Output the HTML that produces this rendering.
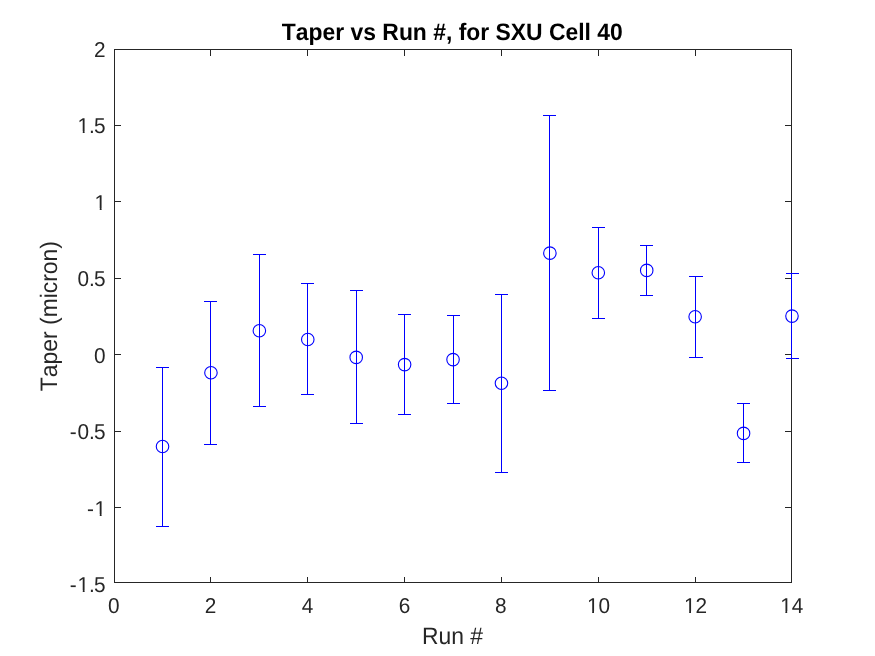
<!DOCTYPE html>
<html><head><meta charset="utf-8"><title>Taper vs Run #</title>
<style>
html,body{margin:0;padding:0;background:#fff;}
body{width:875px;height:656px;overflow:hidden;}
svg{display:block;}
text{font-family:"Liberation Sans",Arial,Helvetica,sans-serif;font-kerning:none;text-rendering:geometricPrecision;}
.tk{font-size:20.8px;fill:#262626;}
.lb{font-size:22.9px;fill:#262626;}
.tt{font-size:22.9px;font-weight:bold;fill:#000;}
</style></head><body>
<svg width="875" height="656" viewBox="0 0 875 656">
<rect width="875" height="656" fill="#fff"/>

<g fill="#262626" shape-rendering="crispEdges">
<rect x="114" y="49" width="678" height="1"/>
<rect x="114" y="582" width="678" height="1"/>
<rect x="114" y="49" width="1" height="534"/>
<rect x="791" y="49" width="1" height="534"/>
<rect x="115" y="125" width="6" height="1"/>
<rect x="785" y="125" width="6" height="1"/>
<rect x="115" y="201" width="6" height="1"/>
<rect x="785" y="201" width="6" height="1"/>
<rect x="115" y="278" width="6" height="1"/>
<rect x="785" y="278" width="6" height="1"/>
<rect x="115" y="354" width="6" height="1"/>
<rect x="785" y="354" width="6" height="1"/>
<rect x="115" y="431" width="6" height="1"/>
<rect x="785" y="431" width="6" height="1"/>
<rect x="115" y="507" width="6" height="1"/>
<rect x="785" y="507" width="6" height="1"/>
<rect x="210" y="577" width="1" height="5"/>
<rect x="210" y="50" width="1" height="6"/>
<rect x="307" y="577" width="1" height="5"/>
<rect x="307" y="50" width="1" height="6"/>
<rect x="404" y="577" width="1" height="5"/>
<rect x="404" y="50" width="1" height="6"/>
<rect x="501" y="577" width="1" height="5"/>
<rect x="501" y="50" width="1" height="6"/>
<rect x="598" y="577" width="1" height="5"/>
<rect x="598" y="50" width="1" height="6"/>
<rect x="695" y="577" width="1" height="5"/>
<rect x="695" y="50" width="1" height="6"/>
</g>
<g fill="#0000ff" shape-rendering="crispEdges">
<rect x="162" y="367" width="1" height="160"/>
<rect x="156" y="367" width="13" height="1"/>
<rect x="156" y="526" width="13" height="1"/>
<rect x="210" y="301" width="1" height="144"/>
<rect x="204" y="301" width="13" height="1"/>
<rect x="204" y="444" width="13" height="1"/>
<rect x="259" y="254" width="1" height="153"/>
<rect x="253" y="254" width="13" height="1"/>
<rect x="253" y="406" width="13" height="1"/>
<rect x="307" y="283" width="1" height="112"/>
<rect x="301" y="283" width="13" height="1"/>
<rect x="301" y="394" width="13" height="1"/>
<rect x="356" y="290" width="1" height="134"/>
<rect x="350" y="290" width="13" height="1"/>
<rect x="350" y="423" width="13" height="1"/>
<rect x="404" y="314" width="1" height="101"/>
<rect x="398" y="314" width="13" height="1"/>
<rect x="398" y="414" width="13" height="1"/>
<rect x="453" y="315" width="1" height="89"/>
<rect x="447" y="315" width="13" height="1"/>
<rect x="447" y="403" width="13" height="1"/>
<rect x="501" y="294" width="1" height="179"/>
<rect x="495" y="294" width="13" height="1"/>
<rect x="495" y="472" width="13" height="1"/>
<rect x="549" y="115" width="1" height="276"/>
<rect x="543" y="115" width="13" height="1"/>
<rect x="543" y="390" width="13" height="1"/>
<rect x="598" y="227" width="1" height="92"/>
<rect x="592" y="227" width="13" height="1"/>
<rect x="592" y="318" width="13" height="1"/>
<rect x="646" y="245" width="1" height="51"/>
<rect x="640" y="245" width="13" height="1"/>
<rect x="640" y="295" width="13" height="1"/>
<rect x="695" y="276" width="1" height="82"/>
<rect x="689" y="276" width="14" height="1"/>
<rect x="689" y="357" width="14" height="1"/>
<rect x="743" y="403" width="1" height="60"/>
<rect x="737" y="403" width="13" height="1"/>
<rect x="737" y="462" width="13" height="1"/>
<rect x="791" y="273" width="1" height="86"/>
<rect x="786" y="273" width="13" height="1"/>
<rect x="786" y="358" width="13" height="1"/>
</g>
<g stroke="#0000ff" stroke-width="1.1" fill="none">
<circle cx="162.52" cy="446.5" r="6.25"/>
<circle cx="210.94" cy="372.7" r="6.25"/>
<circle cx="259.36" cy="330.7" r="6.25"/>
<circle cx="307.78" cy="339.5" r="6.25"/>
<circle cx="356.20" cy="357.4" r="6.25"/>
<circle cx="404.62" cy="364.6" r="6.25"/>
<circle cx="453.04" cy="359.6" r="6.25"/>
<circle cx="501.46" cy="383.3" r="6.25"/>
<circle cx="549.88" cy="253.1" r="6.25"/>
<circle cx="598.30" cy="272.8" r="6.25"/>
<circle cx="646.72" cy="270.4" r="6.25"/>
<circle cx="695.14" cy="316.8" r="6.25"/>
<circle cx="743.56" cy="433.4" r="6.25"/>
<circle cx="791.98" cy="316.1" r="6.25"/>
</g>
<text class="tk" transform="translate(0,57) scale(1,1.040)"><tspan x="93.93">2</tspan></text>
<text class="tk" transform="translate(0,133) scale(1,1.040)"><tspan x="77.54">1.</tspan><tspan x="93.93">5</tspan></text>
<text class="tk" transform="translate(0,210) scale(1,1.040)"><tspan x="94.53">1</tspan></text>
<text class="tk" transform="translate(0,286) scale(1,1.040)"><tspan x="77.49">0.</tspan><tspan x="93.93">5</tspan></text>
<text class="tk" transform="translate(0,363) scale(1,1.040)"><tspan x="93.93">0</tspan></text>
<text class="tk" transform="translate(0,439) scale(1,1.040)"><tspan x="69.66">-</tspan><tspan x="77.39">0.</tspan><tspan x="93.93">5</tspan></text>
<text class="tk" transform="translate(0,516) scale(1,1.040)"><tspan x="87.01">-</tspan><tspan x="94.53">1</tspan></text>
<text class="tk" transform="translate(0,592) scale(1,1.040)"><tspan x="69.66">-</tspan><tspan x="77.54">1.</tspan><tspan x="93.93">5</tspan></text>
<text class="tk" transform="translate(113.8,613.0) scale(1,1.040)" text-anchor="middle">0</text>
<text class="tk" transform="translate(210.5,613.0) scale(1,1.040)" text-anchor="middle">2</text>
<text class="tk" transform="translate(307.5,613.0) scale(1,1.040)" text-anchor="middle">4</text>
<text class="tk" transform="translate(404.5,613.0) scale(1,1.040)" text-anchor="middle">6</text>
<text class="tk" transform="translate(500.7,613.0) scale(1,1.040)" text-anchor="middle">8</text>
<text class="tk" transform="translate(598.5,613.0) scale(1,1.040)" text-anchor="middle">10</text>
<text class="tk" transform="translate(695.5,613.0) scale(1,1.040)" text-anchor="middle">12</text>
<text class="tk" transform="translate(791.7,613.0) scale(1,1.040)" text-anchor="middle">14</text>
<rect x="78.44" y="131.00" width="4.33" height="2.3" fill="#fff"/><rect x="84.61" y="131.00" width="4.20" height="2.3" fill="#fff"/>
<rect x="95.43" y="208.00" width="4.33" height="2.3" fill="#fff"/><rect x="101.60" y="208.00" width="4.20" height="2.3" fill="#fff"/>
<rect x="95.43" y="514.00" width="4.33" height="2.3" fill="#fff"/><rect x="101.60" y="514.00" width="4.20" height="2.3" fill="#fff"/>
<rect x="78.44" y="590.00" width="4.33" height="2.3" fill="#fff"/><rect x="84.61" y="590.00" width="4.20" height="2.3" fill="#fff"/>
<rect x="587.83" y="611.00" width="4.33" height="2.3" fill="#fff"/><rect x="594.00" y="611.00" width="4.20" height="2.3" fill="#fff"/>
<rect x="684.83" y="611.00" width="4.33" height="2.3" fill="#fff"/><rect x="691.00" y="611.00" width="4.20" height="2.3" fill="#fff"/>
<rect x="781.03" y="611.00" width="4.33" height="2.3" fill="#fff"/><rect x="787.20" y="611.00" width="4.20" height="2.3" fill="#fff"/>
<text class="lb" transform="translate(452.5,644.0) scale(1,1.040)" text-anchor="middle">Run #</text>
<text class="lb" transform="translate(57.4,316.1) rotate(-90) scale(1,1.040)" text-anchor="middle">Taper (micron)</text>
<text class="tt" transform="translate(452.3,40.0) scale(1,1.040)" text-anchor="middle">Taper vs Run #, for SXU Cell 40</text>
</svg></body></html>
